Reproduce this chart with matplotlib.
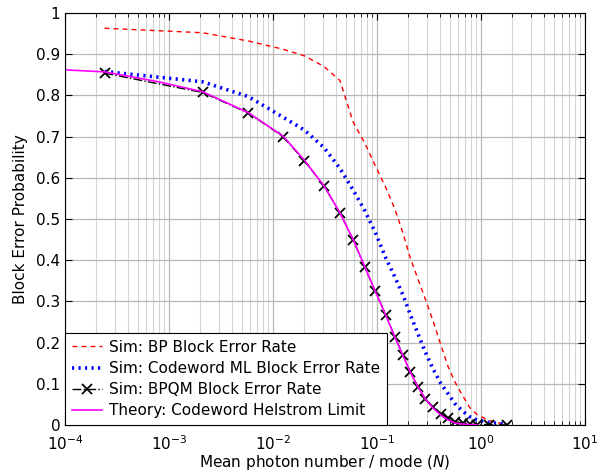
import matplotlib
matplotlib.use('Agg')
import matplotlib.pyplot as plt
from matplotlib.ticker import LogLocator, FixedLocator, FuncFormatter

# photon number grid used by the simulations
n_sim = [2.4e-4, 2.1e-3, 5.8e-3, 0.0125, 0.020, 0.031, 0.044, 0.059, 0.076,
         0.096, 0.122, 0.148, 0.178, 0.209, 0.247, 0.29, 0.343, 0.41, 0.485,
         0.56, 0.67, 0.78, 0.92, 1.2, 1.77]

bp_rate = [0.963, 0.952, 0.932, 0.912, 0.896, 0.870, 0.836, 0.735, 0.685,
           0.630, 0.575, 0.525, 0.465, 0.405, 0.355, 0.307, 0.255, 0.195,
           0.140, 0.105, 0.070, 0.042, 0.025, 0.011, 0.0]

ml_rate = [0.858, 0.833, 0.797, 0.747, 0.716, 0.673, 0.623, 0.570, 0.521,
           0.468, 0.404, 0.360, 0.315, 0.268, 0.222, 0.178, 0.138, 0.101,
           0.075, 0.052, 0.033, 0.020, 0.012, 0.006, 0.002]

bpqm_rate = [0.854, 0.807, 0.757, 0.700, 0.641, 0.580, 0.515, 0.449, 0.384,
             0.325, 0.267, 0.214, 0.170, 0.129, 0.093, 0.064, 0.043, 0.027,
             0.016, 0.008, 0.004, 0.002, 0.001, 0.001, 0.0]

n_theory = [1e-4, 2.4e-4, 7.6e-4, 2.1e-3, 5.8e-3, 0.0125, 0.020, 0.031, 0.044,
            0.059, 0.076, 0.096, 0.122, 0.148, 0.178, 0.209, 0.247, 0.29,
            0.343, 0.41, 0.485, 0.56, 0.67, 0.78, 0.92]
helstrom = [0.862, 0.857, 0.834, 0.809, 0.758, 0.701, 0.643, 0.580, 0.515,
            0.450, 0.385, 0.325, 0.265, 0.214, 0.168, 0.128, 0.093, 0.064,
            0.042, 0.024, 0.012, 0.005, 0.002, 0.001, 0.0]

y_ticks = [0, 0.1, 0.2, 0.3, 0.4, 0.5, 0.6, 0.7, 0.8, 0.9, 1]

fig = plt.figure(figsize=(5.98, 4.72), dpi=100)
ax = fig.add_axes([0.1087, 0.0996, 0.8696, 0.8729])

ax.plot(n_sim, bp_rate, color='red', linestyle=(0, (3.5, 3)), linewidth=1.0,
        label='Sim: BP Block Error Rate')
ax.plot(n_sim, ml_rate, color='blue', linestyle=(0, (0.6, 1.2)), linewidth=2.6,
        label='Sim: Codeword ML Block Error Rate')
ax.plot(n_sim, bpqm_rate, color='black', linestyle='-.', linewidth=1.0,
        marker='x', markersize=7, markeredgewidth=1.3,
        label='Sim: BPQM Block Error Rate')
ax.plot(n_theory, helstrom, color='magenta', linewidth=1.2,
        label='Theory: Codeword Helstrom Limit')

ax.set_xscale('log')
ax.set_xlim(1e-4, 10)
ax.set_ylim(0, 1)
ax.xaxis.set_major_locator(LogLocator(base=10, numticks=10))
ax.xaxis.set_minor_locator(LogLocator(base=10, subs=range(2, 10), numticks=20))
ax.yaxis.set_major_locator(FixedLocator(y_ticks))
ax.yaxis.set_major_formatter(FuncFormatter(lambda v, p: '%g' % v))

ax.grid(True, which='major', color='#b8b8b8', linewidth=0.9)
ax.grid(True, which='minor', axis='x', color='#d4d4d4', linewidth=0.8)
ax.set_axisbelow(True)
ax.tick_params(which='both', direction='in', top=True, right=True, labelsize=11)
ax.tick_params(which='major', length=5)
ax.tick_params(which='minor', length=3)
ax.tick_params(axis='x', which='major', pad=7)

ax.set_xlabel('Mean photon number / mode ($N$)', fontsize=11, labelpad=0)
ax.set_ylabel('Block Error Probability', fontsize=11, labelpad=6)

leg = ax.legend(loc='lower left', fontsize=11, fancybox=False, framealpha=1,
                edgecolor='black', borderaxespad=0, handlelength=2.0,
                borderpad=0.45, labelspacing=0.4, handletextpad=0.4)
leg.get_frame().set_linewidth(0.8)

fig.savefig('out.png', dpi=100)
